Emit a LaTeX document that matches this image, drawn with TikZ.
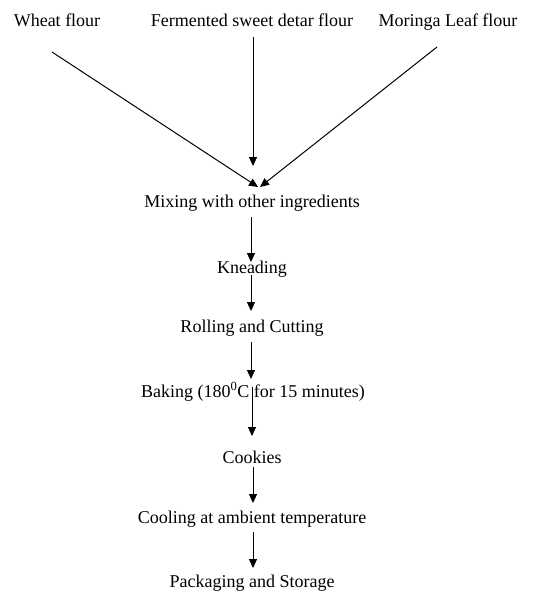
\documentclass[tikz,border=0pt]{standalone}
\usepackage{fontspec}
\setmainfont{Liberation Serif}
\usetikzlibrary{arrows.meta}
\begin{document}
\begin{tikzpicture}[x=1pt,y=-1pt,
  lbl/.style={inner sep=0pt,anchor=base,font=\fontsize{18}{21}\selectfont},
  flow/.style={line width=1pt,-{Triangle[length=9pt,width=8pt]}}]
\useasboundingbox (0,0) rectangle (552,595);
\node[lbl] (wheat) at (57,26) {Wheat flour};
\node[lbl] (ferm) at (252,26) {Fermented sweet detar flour};
\node[lbl] (mor) at (448,26) {Moringa Leaf flour};
\node[lbl] (mix) at (252,207) {Mixing with other ingredients};
\node[lbl] (knead) at (252,273) {Kneading};
\node[lbl] (roll) at (252,332) {Rolling and Cutting};
\node[lbl] (bake) at (253,397) {Baking (180\textsuperscript{0}C for 15 minutes)};
\node[lbl] (cook) at (252,463) {Cookies};
\node[lbl] (cool) at (252,523) {Cooling at ambient temperature};
\node[lbl] (pack) at (252,587) {Packaging and Storage};
% connector ends
\coordinate (wt) at (52,52);
\coordinate (ft) at (253,37);
\coordinate (mt) at (437,47);
\coordinate (wh) at (258,187);
\coordinate (fh) at (253,166);
\coordinate (mh) at (260,187);
\draw[flow] (wt) -- (wh);
\draw[flow] (ft) -- (fh);
\draw[flow] (mt) -- (mh);
\draw[flow] (mix.base) ++(-1,10) -- ++(0,45);
\draw[flow] (knead.base) ++(-1,2) -- ++(0,36);
\draw[flow] (roll.base) ++(-1,10) -- ++(0,37);
\draw[flow] (bake.base) ++(-1,-10) -- ++(0,49);
\draw[flow] (cook.base) ++(1,4) -- ++(0,36);
\draw[flow] (cool.base) ++(1,9) -- ++(0,36);
\end{tikzpicture}
\end{document}
